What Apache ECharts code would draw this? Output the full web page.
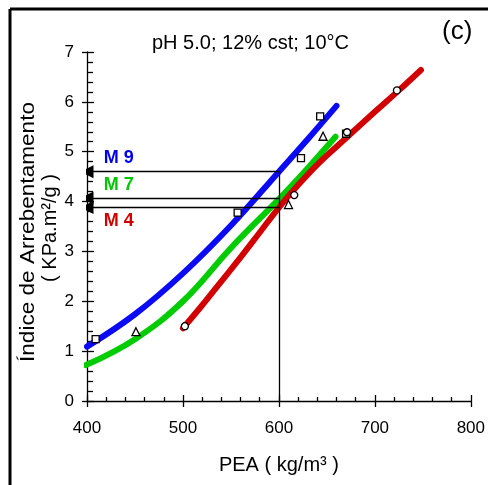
<!DOCTYPE html>
<html><head><meta charset="utf-8">
<script src="https://cdn.jsdelivr.net/npm/echarts@6/dist/echarts.min.js"></script>
<style>html,body{margin:0;padding:0;background:#fff}#c{width:488px;height:485px}</style>
</head><body><div id="c"></div>
<script>
// Curves (fitted lines)
const m9Curve = [[400,1.09],[450,1.74],[500,2.56],[550,3.52],[600,4.60],[630,5.25],[660,5.92]];
const m7Curve = [[399,0.72],[450,1.24],[500,2.00],[550,3.07],[600,4.05],[630,4.67],[659,5.30]];
const m4Curve = [[500,1.46],[520,1.92],[540,2.40],[560,2.88],[580,3.38],[600,3.88],[620,4.33],[640,4.74],[660,5.10],[680,5.45],[700,5.80],[725,6.23],[748,6.64]];
// Experimental points
const m9Points = [[409,1.24],[557,3.78],[623,4.87],[643,5.71],[670,5.36]];
const m7Points = [[451,1.39],[610,3.94],[646,5.31]];
const m4Points = [[502,1.50],[616,4.13],[671,5.39],[723,6.23]];
// Reading arrows at PEA = 600
const readX = 600;
const readY = {m9:4.6, m7:4.07, m4:3.88};
const labels = [{t:'M 9', x:417, y:4.87, c:'#0000f0'},{t:'M 7', x:417, y:4.33, c:'#00c800'},{t:'M 4', x:417, y:3.6, c:'#d00000'}];
const xTicks = {min:400, max:800, interval:100};
const yTicks = {min:0, max:7, interval:1};

const FONT = 'Liberation Sans, Arial, sans-serif';
const chart = echarts.init(document.getElementById('c'), null, {renderer:'canvas'});
const baseX = {type:'value', min:xTicks.min, max:xTicks.max, interval:xTicks.interval, splitLine:{show:false}};
const baseY = {type:'value', min:yTicks.min, max:yTicks.max, interval:yTicks.interval, splitLine:{show:false}};
function arrowLine(y){return {coords:[[readX,y],[xTicks.min,y]]};}
const mk = (sym,data,size)=>({type:'scatter', data, symbol:sym, symbolSize:size, z:5,
  itemStyle:{color:'#fff', borderColor:'#000', borderWidth:1.3, opacity:1}});
const curve = (data,color)=>({type:'line', data, smooth:0.4, showSymbol:false, symbol:'none', z:3,
  lineStyle:{color, width:6, cap:'round', join:'round'}});

chart.setOption({
  animation:false,
  textStyle:{fontFamily:FONT},
  title:{text:'pH 5.0; 12% cst; 10°C', left:147, top:28, textStyle:{fontSize:20, fontWeight:'normal', color:'#000', fontFamily:FONT}},
  grid:{left:87, right:17, top:52, bottom:84},
  xAxis:[
    Object.assign({}, baseX, {name:'PEA ( kg/m³ )', nameLocation:'middle', nameGap:54,
      nameTextStyle:{fontSize:20, color:'#000', fontFamily:FONT},
      axisLine:{lineStyle:{color:'#000', width:1.3}},
      axisTick:{inside:true, length:6, lineStyle:{color:'#000', width:1.3}},
      minorTick:{show:true, splitNumber:5, length:4, lineStyle:{color:'#000', width:1.3}},
      axisLabel:{fontSize:17, color:'#000', margin:19, fontFamily:FONT}}),
    Object.assign({}, baseX, {position:'bottom', axisLine:{show:false},
      axisTick:{inside:false, length:6, lineStyle:{color:'#000', width:1.3}},
      axisLabel:{show:false}})
  ],
  yAxis:[
    Object.assign({}, baseY,
      {axisLine:{lineStyle:{color:'#000', width:1.3}},
      axisTick:{inside:true, length:7, lineStyle:{color:'#000', width:1.3}},
      minorTick:{show:true, splitNumber:5, length:6, lineStyle:{color:'#000', width:1.3}},
      axisLabel:{fontSize:17, color:'#000', margin:13, fontFamily:FONT}}),
    Object.assign({}, baseY, {position:'left', axisLine:{show:false},
      axisTick:{inside:false, length:5, lineStyle:{color:'#000', width:1.3}},
      axisLabel:{show:false}})
  ],
  graphic:[
    {type:'line', shape:{x1:10, y1:9, x2:488, y2:9}, style:{stroke:'#000', lineWidth:3}},
    {type:'line', shape:{x1:10, y1:9, x2:10, y2:485}, style:{stroke:'#000', lineWidth:3}},
    {type:'text', left:442, top:19, style:{text:'(c)', font:'26px '+FONT, fill:'#000'}},
    {type:'text', x:28, y:232, rotation:Math.PI/2, scaleX:1.13,
      style:{text:'Índice de Arrebentamento', font:'20px '+FONT, fill:'#000', textAlign:'center', textVerticalAlign:'middle'}},
    {type:'text', x:50, y:228, rotation:Math.PI/2,
      style:{text:'( KPa.m²/g )', font:'20px '+FONT, fill:'#000', textAlign:'center', textVerticalAlign:'middle'}}
  ],
  series:[
    curve(m7Curve,'#00cc00'),
    curve(m4Curve,'#d20000'),
    curve(m9Curve,'#0a0af5'),
    {type:'lines', coordinateSystem:'cartesian2d', z:4, symbol:['none','triangle'], symbolSize:[9,13],
      lineStyle:{color:'#000', width:1.3, opacity:1},
      data:[arrowLine(readY.m9), arrowLine(readY.m7), arrowLine(readY.m4)]},
    {type:'lines', coordinateSystem:'cartesian2d', z:4, symbol:['none','none'],
      lineStyle:{color:'#000', width:1.3, opacity:1},
      data:[{coords:[[readX,yTicks.min],[readX,readY.m9]]}]},
    mk('rect', m9Points, 7),
    mk('triangle', m7Points, 8),
    mk('circle', m4Points, 7),
    {type:'scatter', symbol:'circle', symbolSize:1, z:6, itemStyle:{color:'rgba(0,0,0,0)', opacity:1},
      data:labels.map(l=>({value:[l.x,l.y], name:l.t,
      label:{show:true, position:'right', distance:0, formatter:l.t, color:l.c, fontSize:18, fontWeight:'bold', fontFamily:FONT}}))}
  ]
});
</script></body></html>
